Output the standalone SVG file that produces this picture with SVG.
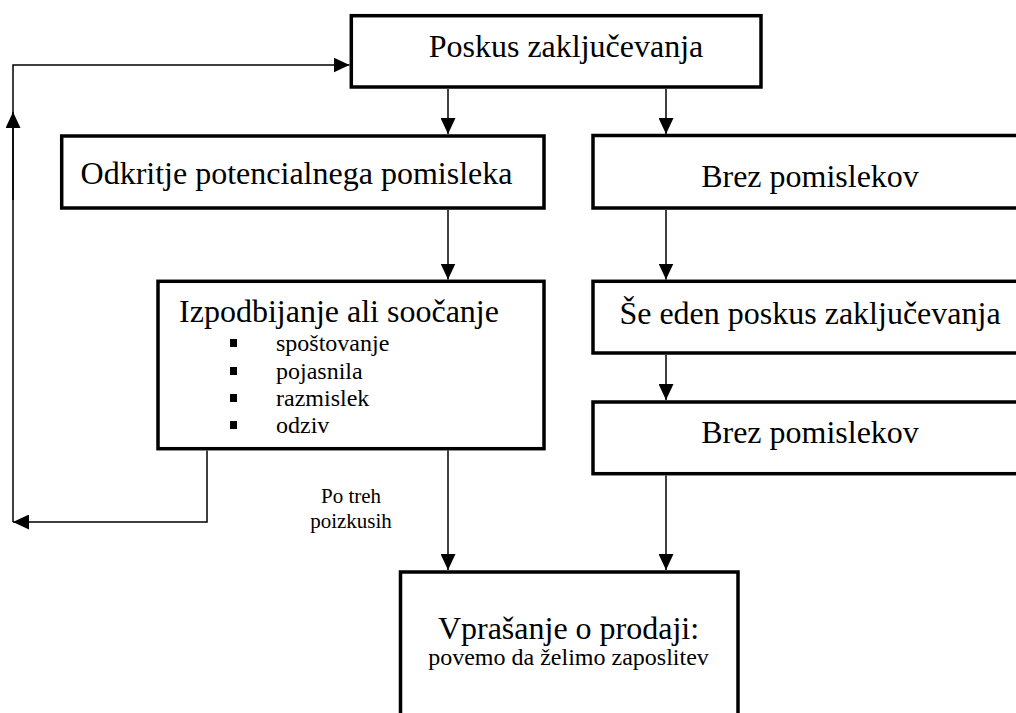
<svg xmlns="http://www.w3.org/2000/svg" width="1016" height="713" viewBox="0 0 1016 713">
<style>
.box{fill:#fff;stroke:#000;stroke-width:3.5}
.t{font-family:"Liberation Serif","Times New Roman",serif;fill:#000;text-anchor:middle}
.big{font-size:32px}
.mid{font-size:24px}
.sm{font-size:21px}
.li{font-family:"Liberation Serif","Times New Roman",serif;font-size:24px;fill:#000}
.c{fill:none;stroke:#000;stroke-width:1.5}
</style>
<defs>
<marker id="ah" markerUnits="userSpaceOnUse" markerWidth="16" markerHeight="15" refX="16" refY="7.5" orient="auto">
<path d="M0,0 L16,7.5 L0,15 z" fill="#000"/>
</marker>
</defs>
<rect width="1016" height="713" fill="#fff"/>
<g id="connectors">
<path class="c" d="M448,89 V134" marker-end="url(#ah)"/>
<path class="c" d="M666,89 V134" marker-end="url(#ah)"/>
<path class="c" d="M448,210 V279.5" marker-end="url(#ah)"/>
<path class="c" d="M666,210 V279.5" marker-end="url(#ah)"/>
<path class="c" d="M666,355 V400" marker-end="url(#ah)"/>
<path class="c" d="M666,475.5 V570" marker-end="url(#ah)"/>
<path class="c" d="M448,450.5 V570" marker-end="url(#ah)"/>
<path class="c" d="M207,450.5 V522 H13" marker-end="url(#ah)"/>
<path class="c" d="M13,522 V65 H349.5" marker-end="url(#ah)"/>
<path class="c" d="M13,200 V112" marker-end="url(#ah)"/>
<text class="t sm" x="351" y="503">Po treh</text>
<text class="t sm" x="351" y="528">poizkusih</text>
</g>
<g id="n-poskus">
<rect class="box" x="351.3" y="15.7" width="409.7" height="71.3"/>
<text class="t big" x="566" y="57">Poskus zaključevanja</text>
</g>
<g id="n-odkritje">
<rect class="box" x="61.7" y="136" width="482.3" height="72"/>
<text class="t big" x="296.5" y="184">Odkritje potencialnega pomisleka</text>
</g>
<g id="n-brez1">
<rect class="box" x="593" y="135.5" width="440" height="72.5"/>
<text class="t big" x="810" y="187">Brez pomislekov</text>
</g>
<g id="n-izpodbijanje">
<rect class="box" x="158" y="281.3" width="386" height="167.4"/>
<text class="t big" x="339" y="322">Izpodbijanje ali soočanje</text>
<rect x="230" y="339" width="7" height="8" fill="#000"/>
<rect x="230" y="367" width="7" height="8" fill="#000"/>
<rect x="230" y="394" width="7" height="8" fill="#000"/>
<rect x="230" y="421" width="7" height="8" fill="#000"/>
<text class="li" x="276" y="351">spoštovanje</text>
<text class="li" x="276" y="379">pojasnila</text>
<text class="li" x="276" y="406">razmislek</text>
<text class="li" x="276" y="433">odziv</text>
</g>
<g id="n-se-eden">
<rect class="box" x="593" y="281.3" width="440" height="71.7"/>
<text class="t big" x="810" y="324">Še eden poskus zaključevanja</text>
</g>
<g id="n-brez2">
<rect class="box" x="593" y="402" width="440" height="71.7"/>
<text class="t big" x="810" y="443">Brez pomislekov</text>
</g>
<g id="n-vprasanje">
<rect class="box" x="400.5" y="572" width="337.5" height="160"/>
<text class="t big" x="568.5" y="639">Vprašanje o prodaji:</text>
<text class="t mid" x="568.5" y="665">povemo da želimo zaposlitev</text>
</g>
</svg>
